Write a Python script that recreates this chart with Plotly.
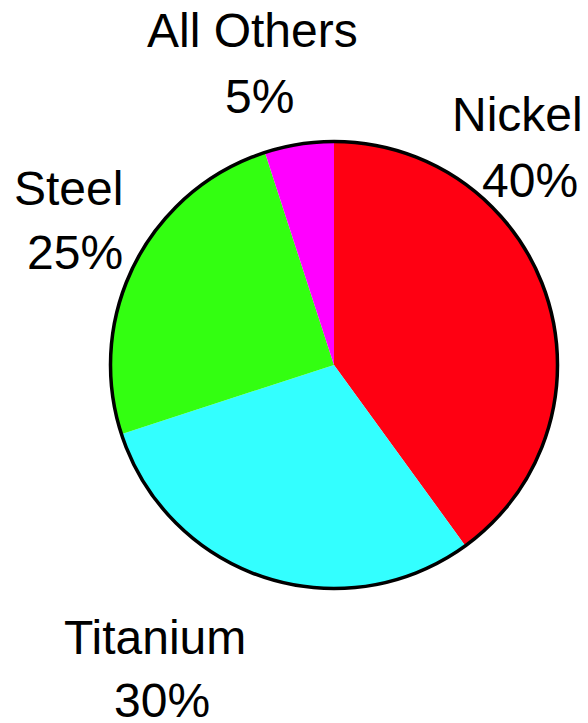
import plotly.graph_objects as go

# Material share of the part
materials = ["Nickel", "Titanium", "Steel", "All Others"]
shares = [40, 30, 25, 5]
slice_colors = ["#FF0012", "#33FFFF", "#33FF11", "#FF00FF"]

W, H = 588, 723

# Pie geometry in pixels (centre and radius)
cx, cy, r = 334, 365, 223

# Label placement in pixels: centre of name line and centre of percent line
label_pos = {
    "Nickel": ((517, 114), (530, 180)),
    "Titanium": ((155, 637), (162, 700)),
    "Steel": ((68, 189), (75, 253)),
    "All Others": ((252, 31), (259, 97)),
}

def px(x):
    return x / W

def py(y):
    return 1 - y / H

fig = go.Figure(
    go.Pie(
        labels=materials,
        values=shares,
        marker=dict(colors=slice_colors, line=dict(width=0)),
        sort=False,
        direction="clockwise",
        rotation=0,
        textinfo="none",
        hoverinfo="label+percent",
        showlegend=False,
        domain=dict(x=[px(cx - r), px(cx + r)], y=[py(cy + r), py(cy - r)]),
    )
)

# Outer rim of the pie
fig.add_shape(
    type="circle",
    xref="paper", yref="paper",
    x0=px(cx - r - 0.5), x1=px(cx + r + 0.5),
    y0=py(cy + r + 0.5), y1=py(cy - r - 0.5),
    line=dict(color="black", width=3.5),
    fillcolor="rgba(0,0,0,0)",
)

label_font = dict(family="Liberation Sans, Arial, sans-serif", size=48, color="black")
for name, val in zip(materials, shares):
    (nx, ny), (vx, vy) = label_pos[name]
    fig.add_annotation(
        x=px(nx), y=py(ny), xref="paper", yref="paper",
        text=name, showarrow=False, xanchor="center", yanchor="middle",
        font=label_font,
    )
    fig.add_annotation(
        x=px(vx), y=py(vy), xref="paper", yref="paper",
        text=f"{val}%", showarrow=False, xanchor="center", yanchor="middle",
        font=label_font,
    )

fig.update_layout(
    width=W, height=H,
    margin=dict(l=0, r=0, t=0, b=0),
    paper_bgcolor="white",
    plot_bgcolor="white",
)

fig.write_html("out.html")
